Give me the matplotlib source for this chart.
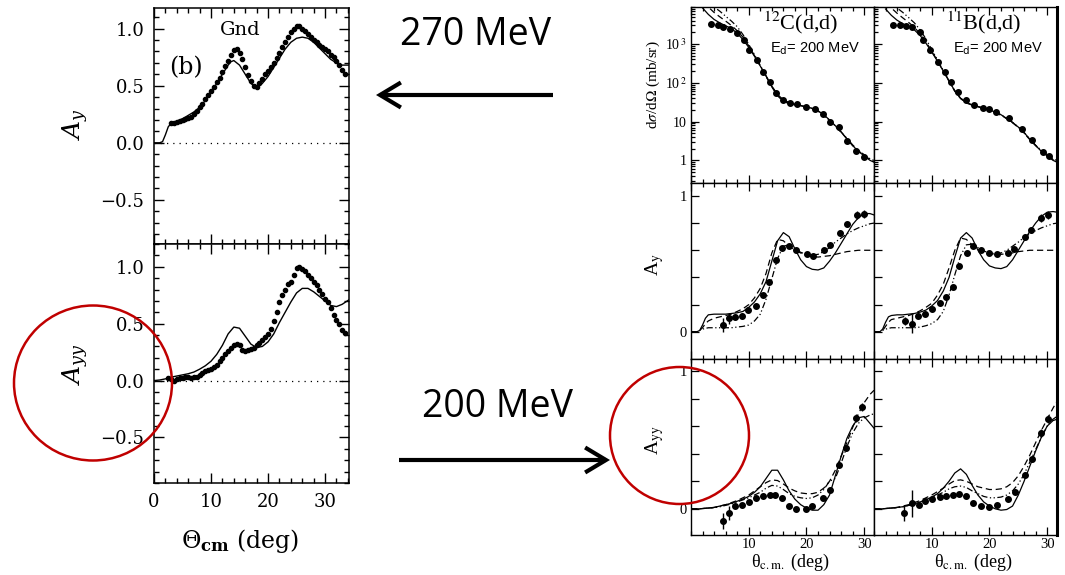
import matplotlib
matplotlib.use("Agg")
import matplotlib.pyplot as plt
from matplotlib.patches import Ellipse, FancyArrowPatch
from matplotlib.ticker import MultipleLocator, NullFormatter
import numpy as np

W, H = 1065, 575

# ---- left: Gnd, 270 MeV (Ay and Ayy) ----
ay_fit_th = [0, 1, 1.5, 2, 2.5, 3, 4, 5, 6, 7, 8, 9, 10, 11, 12, 13, 13.5, 14, 15, 16, 17, 17.7,
             18.5, 19, 20, 21, 22, 23, 24, 25, 26, 27, 28, 29, 30, 31, 32, 33, 34.2]
ay_fit = [0, 0, 0.01, 0.07, 0.14, 0.17, 0.19, 0.21, 0.24, 0.27, 0.31, 0.37, 0.44, 0.52, 0.6, 0.68,
          0.71, 0.72, 0.68, 0.6, 0.52, 0.49, 0.5, 0.52, 0.58, 0.66, 0.74, 0.82, 0.88, 0.915, 0.925,
          0.915, 0.88, 0.83, 0.78, 0.73, 0.7, 0.68, 0.68]
ay_dat_th = np.arange(3.0, 33.6, 0.5)
ay_dat = [.17, .17, .18, .19, .20, .21, .22, .23, .25, .28, .31, .34, .38, .42, .45, .49, .53, .57,
          .62, .67, .72, .77, .81, .82, .79, .73, .66, .59, .54, .50, .49, .52, .56, .60, .63, .66,
          .70, .74, .79, .84, .88, .93, .97, 1.0, 1.02, 1.02, 1.0, .98, .95, .93, .90, .88, .86,
          .84, .82, .80, .77, .75, .72, .68, .64, .60]

ayy_fit_th = [0, 1, 2, 3, 4, 5, 6, 7, 8, 9, 10, 11, 12, 13, 14, 15, 16, 17, 18, 19, 20, 21, 22,
              23, 24, 25, 26, 27, 28, 29, 30, 31, 32, 33, 34.2]
ayy_fit = [0, 0.005, 0.015, 0.03, 0.04, 0.05, 0.06, 0.075, 0.1, 0.13, 0.17, 0.23, 0.31, 0.41, 0.47,
           0.46, 0.39, 0.32, 0.29, 0.3, 0.34, 0.41, 0.51, 0.6, 0.69, 0.77, 0.81, 0.81, 0.78, 0.74,
           0.7, 0.66, 0.65, 0.67, 0.71]
ayy_dat_th = np.arange(2.5, 33.6, 0.5)
ayy_dat = [.02, .01, .0, .01, .02, .02, .03, .03, .02, .03, .03, .05, .07, .08, .09, .10, .12, .14,
           .17, .20, .23, .26, .29, .31, .32, .31, .27, .26, .27, .28, .29, .31, .33, .36, .38, .41,
           .45, .52, .60, .69, .75, .80, .85, .87, .93, .99, 1.0, .98, .96, .93, .90, .87, .84, .80,
           .76, .72, .69, .64, .58, .53, .50, .44, .42]

# ---- right: 12C(d,d) and 11B(d,d), 200 MeV ----
xs_th = np.arange(2, 33)
xs_c_solid = [8500, 5800, 4300, 3500, 2950, 2500, 1900, 1300, 820, 480, 270, 150, 82, 50, 36, 31,
              28, 26, 24, 22, 19, 15, 11, 7.8, 5.4, 3.6, 2.4, 1.7, 1.3, 1.0, 0.85]
xs_c_dash = [12000, 9000, 6500, 5000, 3900, 3000, 2200, 1500, 900, 500, 270, 145, 78, 46, 33, 29,
             27, 25.5, 23.5, 21.5, 18.5, 14.5, 10.8, 7.6, 5.3, 3.6, 2.4, 1.75, 1.35, 1.05, 0.9]
xs_c_dot = [16000, 12000, 9000, 7000, 5200, 3900, 2800, 1750, 980, 530, 280, 150, 80, 48, 35, 30,
            27.5, 25.5, 23.5, 21.5, 18.5, 14.5, 10.8, 7.7, 5.4, 3.7, 2.5, 1.8, 1.4, 1.1, 0.95]
xs_c_dat_th = [3.4, 4.6, 5.6, 6.8, 8.0, 9.2, 10.1, 11.4, 12.5, 13.7, 14.8, 15.9, 17.1, 18.4, 20.0,
               21.5, 22.8, 24.1, 25.6, 27.0, 28.5, 29.9]
xs_c_dat = [3200, 3100, 2700, 2400, 1900, 1300, 700, 390, 190, 105, 55, 36, 30, 28, 24, 21, 16, 10,
            7.3, 3.1, 1.7, 1.25]

xs_b_solid = [8000, 5500, 4100, 3350, 2800, 2300, 1650, 1050, 620, 360, 200, 110, 62, 40, 31, 27,
              24.5, 22, 20, 17.5, 15, 12, 9.5, 7.2, 5.2, 3.5, 2.4, 1.7, 1.3, 1.0, 0.85]
xs_b_dash = [11500, 8500, 6200, 4700, 3600, 2700, 1800, 1150, 650, 370, 200, 110, 60, 39, 30, 26.5,
             24, 21.5, 19.5, 17, 14.5, 11.8, 9.3, 7.0, 5.0, 3.4, 2.4, 1.75, 1.35, 1.05, 0.9]
xs_b_dot = [15000, 11000, 8500, 6500, 4800, 3500, 2300, 1350, 720, 390, 210, 112, 62, 40, 31, 27,
            24.5, 22, 19.8, 17.5, 15, 12, 9.5, 7.2, 5.2, 3.5, 2.45, 1.8, 1.4, 1.1, 0.92]
xs_b_dat_th = [3.3, 4.5, 5.5, 6.5, 7.9, 8.5, 9.7, 11.1, 12.3, 13.4, 14.6, 16.0, 17.4, 18.8, 20.0,
               21.1, 23.4, 25.7, 27.4, 29.2, 30.3]
xs_b_dat = [3100, 3000, 2900, 2700, 2100, 1300, 700, 350, 190, 105, 58, 35, 26, 23, 21, 18, 12, 6.6,
            3.3, 1.6, 1.27]

pol_th = [0, 1, 1.5, 2, 2.5, 3, 4, 5, 6, 7, 8, 9, 10, 11, 12, 13, 14, 15, 16, 17, 18, 19, 20, 21,
          22, 23, 24, 25, 26, 27, 28, 29, 30, 31, 31.7]

ay_c_solid = [0, 0, 0.01, 0.05, 0.1, 0.125, 0.13, 0.13, 0.13, 0.135, 0.14, 0.15, 0.18, 0.22, 0.28,
              0.37, 0.52, 0.67, 0.73, 0.70, 0.61, 0.53, 0.48, 0.46, 0.455, 0.47, 0.52, 0.58, 0.65,
              0.72, 0.79, 0.84, 0.87, 0.87, 0.86]
ay_c_dash = [0, 0, 0.01, 0.03, 0.06, 0.08, 0.1, 0.11, 0.12, 0.13, 0.15, 0.17, 0.2, 0.25, 0.32, 0.43,
             0.58, 0.68, 0.67, 0.63, 0.6, 0.58, 0.56, 0.555, 0.55, 0.555, 0.56, 0.57, 0.58, 0.59,
             0.595, 0.6, 0.6, 0.6, 0.6]
ay_c_dot = [0, 0, 0.01, 0.02, 0.025, 0.03, 0.03, 0.03, 0.03, 0.03, 0.035, 0.04, 0.05, 0.08, 0.13,
            0.24, 0.39, 0.54, 0.63, 0.64, 0.61, 0.585, 0.57, 0.565, 0.57, 0.59, 0.62, 0.66, 0.69,
            0.72, 0.745, 0.765, 0.78, 0.795, 0.8]
ay_c_dat_th = [5.5, 6.6, 7.7, 8.8, 9.9, 11.2, 12.4, 13.5, 14.7, 15.8, 17.0, 18.2, 20.1, 21.2, 23.0,
               24.1, 25.8, 27.1, 28.7, 29.9]
ay_c_dat = [0.05, 0.1, 0.11, 0.12, 0.16, 0.19, 0.27, 0.37, 0.53, 0.62, 0.63, 0.6, 0.57, 0.56, 0.6,
            0.64, 0.73, 0.79, 0.86, 0.87]
ay_c_err = [0.05, 0.04, 0.02, 0.015, 0.015, 0.015, 0.015, 0.015, 0.015, 0.015, 0.015, 0.015, 0.015,
            0.015, 0.015, 0.015, 0.02, 0.02, 0.03, 0.03]

ay_b_solid = [0, 0, 0.02, 0.07, 0.11, 0.12, 0.125, 0.125, 0.13, 0.135, 0.145, 0.16, 0.19, 0.23,
              0.3, 0.4, 0.55, 0.69, 0.73, 0.69, 0.6, 0.53, 0.485, 0.47, 0.465, 0.48, 0.53, 0.6,
              0.67, 0.74, 0.8, 0.85, 0.88, 0.885, 0.88]
ay_b_dash = [0, 0, 0.01, 0.04, 0.07, 0.09, 0.1, 0.11, 0.12, 0.135, 0.155, 0.18, 0.21, 0.27, 0.35,
             0.47, 0.6, 0.69, 0.68, 0.64, 0.61, 0.59, 0.575, 0.57, 0.57, 0.575, 0.58, 0.59, 0.595,
             0.6, 0.6, 0.6, 0.6, 0.6, 0.6]
ay_b_dot = [0, 0, 0.01, 0.02, 0.025, 0.03, 0.03, 0.03, 0.03, 0.03, 0.035, 0.045, 0.06, 0.09, 0.15,
            0.27, 0.42, 0.56, 0.64, 0.645, 0.62, 0.595, 0.58, 0.575, 0.58, 0.6, 0.63, 0.66, 0.695,
            0.72, 0.745, 0.765, 0.78, 0.795, 0.8]
ay_b_dat_th = [5.3, 6.5, 7.7, 8.8, 10.0, 11.4, 12.5, 13.7, 14.8, 16.1, 17.2, 18.6, 20.0, 21.3, 23.2,
               24.3, 26.1, 27.2, 29.0, 30.1]
ay_b_dat = [0.08, 0.06, 0.12, 0.13, 0.17, 0.21, 0.255, 0.33, 0.485, 0.58, 0.63, 0.6, 0.58, 0.57,
            0.58, 0.61, 0.7, 0.75, 0.84, 0.86]
ay_b_err = [0.03, 0.07, 0.02, 0.015, 0.015, 0.015, 0.015, 0.015, 0.015, 0.015, 0.015, 0.015, 0.015,
            0.015, 0.015, 0.015, 0.02, 0.02, 0.03, 0.03]

ayy_c_solid = [0, 0, 0, 0.002, 0.004, 0.006, 0.01, 0.02, 0.03, 0.04, 0.055, 0.07, 0.09, 0.12, 0.16,
               0.22, 0.28, 0.28, 0.21, 0.13, 0.07, 0.03, 0.005, -0.01, -0.01, 0.03, 0.1, 0.24, 0.38,
               0.51, 0.6, 0.66, 0.67, 0.62, 0.585]
ayy_c_dash = [0, 0, 0, 0.002, 0.004, 0.006, 0.01, 0.02, 0.03, 0.045, 0.06, 0.08, 0.1, 0.13, 0.16,
              0.19, 0.21, 0.205, 0.18, 0.15, 0.13, 0.115, 0.11, 0.11, 0.12, 0.15, 0.2, 0.28, 0.38,
              0.48, 0.59, 0.69, 0.77, 0.83, 0.86]
ayy_c_dot = [0, 0, 0, 0.002, 0.003, 0.005, 0.008, 0.015, 0.025, 0.035, 0.05, 0.065, 0.08, 0.1, 0.12,
             0.15, 0.17, 0.165, 0.14, 0.11, 0.09, 0.08, 0.075, 0.08, 0.1, 0.14, 0.2, 0.22, 0.33,
             0.45, 0.55, 0.62, 0.66, 0.68, 0.69]
ayy_c_dat_th = [5.5, 6.6, 7.7, 8.8, 10.1, 11.3, 12.4, 13.6, 14.6, 15.8, 17.0, 18.2, 19.9, 20.9,
                22.8, 24.0, 25.7, 26.8, 28.5, 29.7]
ayy_c_dat = [-0.09, -0.03, 0.02, 0.03, 0.05, 0.075, 0.09, 0.1, 0.1, 0.075, 0.02, 0.0, 0.0, 0.02,
             0.075, 0.14, 0.32, 0.44, 0.66, 0.74]
ayy_c_err = [0.06, 0.05, 0.015, 0.015, 0.015, 0.015, 0.015, 0.015, 0.015, 0.015, 0.015, 0.015,
             0.015, 0.015, 0.015, 0.02, 0.02, 0.02, 0.03, 0.03]

ayy_b_solid = [0, 0, 0, 0.002, 0.004, 0.006, 0.01, 0.015, 0.025, 0.035, 0.05, 0.065, 0.085, 0.11,
               0.15, 0.2, 0.26, 0.29, 0.25, 0.17, 0.1, 0.05, 0.02, 0.0, -0.01, -0.005, 0.02, 0.1,
               0.2, 0.31, 0.42, 0.52, 0.6, 0.64, 0.65]
ayy_b_dash = [0, 0, 0, 0.002, 0.004, 0.006, 0.01, 0.02, 0.03, 0.045, 0.06, 0.08, 0.1, 0.125, 0.15,
              0.18, 0.205, 0.21, 0.2, 0.18, 0.16, 0.15, 0.14, 0.14, 0.145, 0.16, 0.19, 0.24, 0.31,
              0.39, 0.48, 0.57, 0.65, 0.73, 0.78]
ayy_b_dot = [0, 0, 0, 0.002, 0.003, 0.005, 0.008, 0.015, 0.025, 0.035, 0.05, 0.065, 0.08, 0.1,
             0.12, 0.145, 0.16, 0.165, 0.155, 0.13, 0.11, 0.09, 0.08, 0.08, 0.085, 0.1, 0.13, 0.18,
             0.25, 0.34, 0.43, 0.52, 0.6, 0.65, 0.67]
ayy_b_dat_th = [5.2, 6.5, 7.8, 8.9, 10.1, 11.4, 12.5, 13.7, 14.8, 16.0, 17.2, 18.6, 20.0, 21.3,
                23.2, 24.5, 26.1, 27.4, 29.0, 30.1]
ayy_b_dat = [-0.03, 0.04, 0.03, 0.055, 0.07, 0.085, 0.09, 0.1, 0.11, 0.09, 0.04, 0.02, 0.015, 0.03,
             0.07, 0.125, 0.245, 0.36, 0.55, 0.65]
ayy_b_err = [0.06, 0.1, 0.02, 0.015, 0.015, 0.015, 0.015, 0.015, 0.015, 0.015, 0.015, 0.015, 0.015,
             0.015, 0.015, 0.02, 0.02, 0.02, 0.03, 0.03]


def px_box(x0, y0, x1, y1):
    # pixel box (top-left origin) -> figure fraction rect
    return [x0 / W, 1 - y1 / H, (x1 - x0) / W, (y1 - y0) / H]


def fx(x):
    return x / W


def fy(y):
    return 1 - y / H


fig = plt.figure(figsize=(W / 100, H / 100), dpi=100)
fig.patch.set_facecolor("white")

LSERIF = "DejaVu Serif"
RSERIF = "Liberation Serif"

# ---------- left panels ----------
def style_left(ax, ylo, yhi, show_x):
    ax.set_xlim(0, 34.2)
    ax.set_ylim(ylo, yhi)
    ax.xaxis.set_major_locator(MultipleLocator(10))
    ax.xaxis.set_minor_locator(MultipleLocator(2))
    ax.set_yticks([-0.5, 0.0, 0.5, 1.0])
    ax.yaxis.set_minor_locator(MultipleLocator(0.1))
    ax.tick_params(which="both", direction="in", top=True, right=True, width=1.0)
    ax.tick_params(which="major", length=7, pad=7)
    ax.tick_params(which="minor", length=3.5)
    ax.set_yticklabels(["\u22120.5", "0.0", "0.5", "1.0"], fontfamily=LSERIF, fontsize=13)
    if not show_x:
        ax.xaxis.set_major_formatter(NullFormatter())
    for s in ax.spines.values():
        s.set_linewidth(1.1)
    ax.axhline(0, color="black", lw=0.9, ls=(0, (1, 4)))


ax1 = fig.add_axes(px_box(154, 8, 349, 244))
style_left(ax1, -0.886, 1.18, False)
ax1.plot(ay_fit_th, ay_fit, color="black", lw=1.0)
ax1.plot(ay_dat_th, ay_dat, "o", color="black", ms=3)
ax1.text(0.44, 0.905, "Gnd", transform=ax1.transAxes, fontfamily=LSERIF, fontsize=14,
         ha="center", va="center")
ax1.text(0.165, 0.745, "(b)", transform=ax1.transAxes, fontfamily=LSERIF, fontsize=17,
         ha="center", va="center")

ax2 = fig.add_axes(px_box(154, 244, 349, 483))
style_left(ax2, -0.9, 1.2, True)
ax2.set_xticks([0, 10, 20, 30])
ax2.set_xticklabels(["0", "10", "20", "30"], fontfamily=LSERIF, fontsize=13)
ax2.plot(ayy_fit_th, ayy_fit, color="black", lw=1.0)
ax2.plot(ayy_dat_th, ayy_dat, "o", color="black", ms=3)

fig.text(fx(76), fy(124), r"$A_y$", rotation=90, ha="center", va="center", fontsize=18,
         math_fontfamily="dejavuserif")
fig.text(fx(76), fy(364), r"$A_{yy}$", rotation=90, ha="center", va="center", fontsize=18,
         math_fontfamily="dejavuserif")
fig.text(fx(240), fy(541), r"$\Theta_{\mathbf{cm}}$ (deg)", ha="center", va="center",
         fontsize=17, fontfamily=LSERIF, math_fontfamily="dejavuserif")

# ---------- right panels ----------
cols = [(691, 874), (874, 1057)]
rows = [(7, 183), (183, 359), (359, 535)]


def style_right(ax, bottom_row):
    ax.set_xlim(0, 31.7)
    ax.xaxis.set_major_locator(MultipleLocator(10))
    ax.xaxis.set_minor_locator(MultipleLocator(2))
    ax.tick_params(which="both", direction="in", top=True, right=False, width=0.9,
                   labelsize=10)
    ax.tick_params(axis="y", pad=3)
    ax.tick_params(axis="x", pad=2)
    ax.tick_params(which="major", length=6)
    ax.tick_params(which="minor", length=3)
    for s in ax.spines.values():
        s.set_linewidth(1.0)
    if bottom_row:
        ax.set_xticks([10, 20, 30])
        ax.set_xticklabels(["10", "20", "30"], fontfamily=RSERIF, fontsize=10.5)
    else:
        ax.xaxis.set_major_formatter(NullFormatter())


def curves(ax, sol, das, dot, th):
    ax.plot(th, sol, color="black", lw=0.9)
    ax.plot(th, das, color="black", lw=0.9, ls=(0, (5, 3)))
    ax.plot(th, dot, color="black", lw=0.9, ls=(0, (5, 2, 1, 2, 1, 2)))


xs_sets = [(xs_c_solid, xs_c_dash, xs_c_dot, xs_c_dat_th, xs_c_dat),
           (xs_b_solid, xs_b_dash, xs_b_dot, xs_b_dat_th, xs_b_dat)]
ay_sets = [(ay_c_solid, ay_c_dash, ay_c_dot, ay_c_dat_th, ay_c_dat, ay_c_err),
           (ay_b_solid, ay_b_dash, ay_b_dot, ay_b_dat_th, ay_b_dat, ay_b_err)]
ayy_sets = [(ayy_c_solid, ayy_c_dash, ayy_c_dot, ayy_c_dat_th, ayy_c_dat, ayy_c_err),
            (ayy_b_solid, ayy_b_dash, ayy_b_dot, ayy_b_dat_th, ayy_b_dat, ayy_b_err)]
titles = [r"$^{12}$C(d,d)", r"$^{11}$B(d,d)"]

for ci, (x0, x1) in enumerate(cols):
    # cross sections
    ax = fig.add_axes(px_box(x0, rows[0][0], x1, rows[0][1]))
    ax.set_yscale("log")
    sol, das, dot, dth, dv = xs_sets[ci]
    curves(ax, sol, das, dot, xs_th)
    ax.plot(dth, dv, "o", color="black", ms=4)
    ax.set_ylim(0.26, 9000)
    style_right(ax, False)
    ax.set_yticks([1, 10, 100, 1000])
    if ci == 0:
        ax.set_yticklabels(["1", "10", r"10$^{\,2}$", r"10$^{\,3}$"], fontfamily=RSERIF,
                           fontsize=10, math_fontfamily="stix")
    else:
        ax.yaxis.set_major_formatter(NullFormatter())
    ax.yaxis.set_minor_formatter(NullFormatter())
    if ci == 1:
        ax.spines["right"].set_linewidth(2.2)
    ax.text(0.6, 0.87, titles[ci], transform=ax.transAxes, ha="center", va="baseline",
            fontfamily=RSERIF, fontsize=16, math_fontfamily="stix")
    ax.text(0.68, 0.765, r"E$_{\rm d}$= 200 MeV", transform=ax.transAxes, ha="center",
            va="center", fontfamily="Liberation Sans", fontsize=10.5,
            math_fontfamily="dejavusans")

    # analysing powers
    for ri, sets, ylims in [(1, ay_sets, (-0.2, 1.095)), (2, ayy_sets, (-0.19, 1.087))]:
        ax = fig.add_axes(px_box(x0, rows[ri][0], x1, rows[ri][1]))
        sol, das, dot, dth, dv, de = sets[ci]
        curves(ax, sol, das, dot, pol_th)
        ax.errorbar(dth, dv, yerr=de, fmt="o", color="black", ms=4, elinewidth=1, capsize=0)
        ax.set_ylim(*ylims)
        style_right(ax, ri == 2)
        ax.set_yticks([0, 0.2, 0.4, 0.6, 0.8, 1.0])
        if ci == 0:
            ax.set_yticklabels(["0", "", "", "", "", "1"], fontfamily=RSERIF, fontsize=10.5)
        else:
            ax.yaxis.set_major_formatter(NullFormatter())
            ax.spines["right"].set_linewidth(2.2)

fig.text(fx(653), fy(85), r"d$\sigma$/d$\Omega$ (mb/sr)", rotation=90, ha="center",
         va="center", fontfamily=RSERIF, fontsize=11, math_fontfamily="stix")
fig.text(fx(655), fy(265), r"A$_{\rm y}$", rotation=90, ha="center", va="center",
         fontfamily=RSERIF, fontsize=14, math_fontfamily="stix")
fig.text(fx(655), fy(440), r"A$_{\rm yy}$", rotation=90, ha="center", va="center",
         fontfamily=RSERIF, fontsize=14, math_fontfamily="stix")
for xc in [790, 973]:
    fig.text(fx(xc), fy(562), "\u03b8$_{\\rm c.m.}$ (deg)", ha="center", va="center",
             fontfamily=RSERIF, fontsize=13, math_fontfamily="stix")

# ---------- annotations ----------
fig.text(fx(476), fy(45), "270 MeV", ha="center", va="baseline", fontfamily="Open Sans",
         fontsize=27)
fig.text(fx(497), fy(417), "200 MeV", ha="center", va="baseline", fontfamily="Open Sans",
         fontsize=27)

for (xa, xb, y) in [(553, 376, 95), (399, 610, 460)]:
    arr = FancyArrowPatch((fx(xa), fy(y)), (fx(xb), fy(y)), transform=fig.transFigure,
                          arrowstyle="->,head_length=0.75,head_width=0.45", mutation_scale=20,
                          lw=3, color="black", shrinkA=0, shrinkB=0, joinstyle="miter",
                          capstyle="butt")
    fig.add_artist(arr)

for (xc, yc, rx, ry) in [(93, 383, 79, 77.5), (679.5, 435.5, 69.5, 68.5)]:
    circ = Ellipse((fx(xc), fy(yc)), 2 * rx / W, 2 * ry / H, transform=fig.transFigure,
                   fill=False, edgecolor="#C00000", lw=1.8)
    fig.add_artist(circ)

fig.savefig("out.png", dpi=100)
